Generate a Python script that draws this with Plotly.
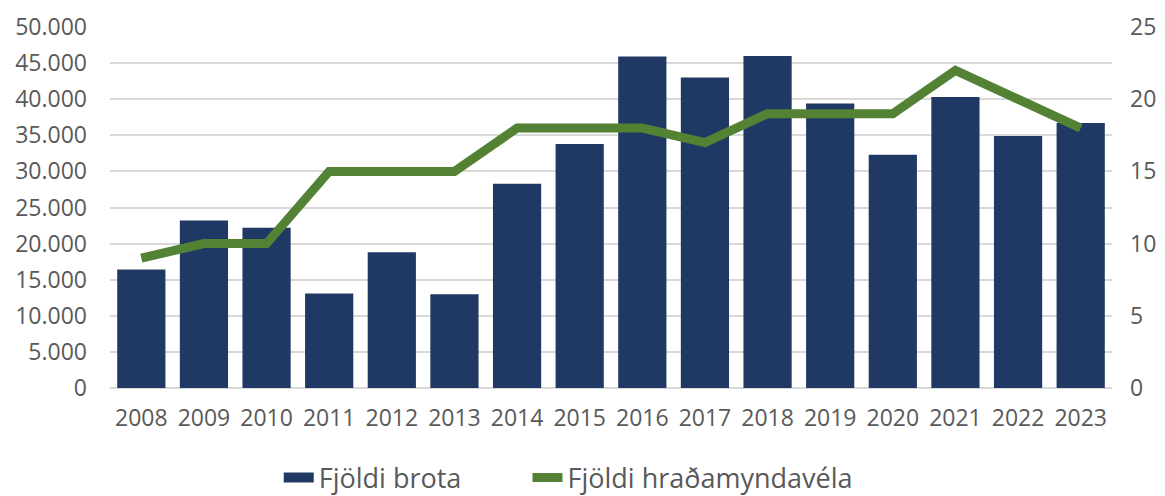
import plotly.graph_objects as go

years = [str(y) for y in range(2008, 2024)]
brot = [16400, 23200, 22200, 13100, 18800, 13000, 28300, 33800,
        45900, 43000, 46000, 39400, 32300, 40300, 34900, 36700]
velar = [9, 10, 10, 15, 15, 15, 18, 18, 18, 17, 19, 19, 19, 22, 20, 18]

font_family = "Open Sans, Noto Sans, sans-serif"
tick_color = "#595959"
bar_color = "#203864"
line_color = "#548235"

fig = go.Figure()
fig.add_trace(go.Bar(
    x=years, y=brot, name="Fjöldi brota", showlegend=False,
    marker=dict(color=bar_color, line=dict(width=0)),
))
# breiður legend-reitur fyrir súlurnar (eins og í Excel)
fig.add_trace(go.Scatter(
    x=[None], y=[None], name="Fjöldi brota", mode="lines",
    line=dict(color=bar_color, width=16), legend="legend",
))
fig.add_trace(go.Scatter(
    x=years, y=velar, name="Fjöldi hraðamyndavéla", yaxis="y2",
    mode="lines", line=dict(color=line_color, width=9), legend="legend2",
))

legend_style = dict(orientation="h", xref="container", yref="container",
                    xanchor="left", y=0.037, yanchor="middle",
                    font=dict(size=27, color=tick_color))

# síðan er með 8px spássíu, svo myndin er höfð 8px minni
fig.update_layout(
    width=1157, height=488,
    margin=dict(l=102, r=53, t=19, b=108),
    plot_bgcolor="white", paper_bgcolor="white",
    separators=",.",
    bargap=0.23,
    font=dict(family=font_family, size=23, color=tick_color),
    showlegend=True,
    legend=dict(x=0.234, **legend_style),
    legend2=dict(x=0.449, **legend_style),
    xaxis=dict(showgrid=False, showline=False, ticks="", automargin=False,
               ticklabelstandoff=14,
               tickfont=dict(size=23, color=tick_color)),
    yaxis=dict(range=[0, 50000], dtick=5000, tickformat=",d", automargin=False,
               gridcolor="#d9d9d9", gridwidth=1.5, zeroline=True,
               zerolinecolor="#d9d9d9", zerolinewidth=1.5,
               ticklabelstandoff=22,
               tickfont=dict(size=23, color=tick_color)),
    yaxis2=dict(range=[0, 25], dtick=5, overlaying="y", side="right",
                automargin=False,
                showgrid=False, zeroline=False, ticklabelstandoff=17,
                tickfont=dict(size=23, color=tick_color)),
)

fig.write_html("out.html")
